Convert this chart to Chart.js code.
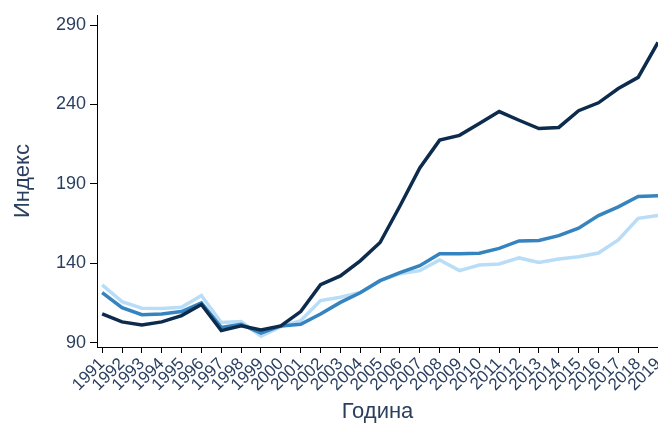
<!DOCTYPE html>
<html>
<head>
<meta charset="utf-8">
<script src="https://cdn.jsdelivr.net/npm/chart.js@4.4.1/dist/chart.umd.min.js"></script>
<style>
  html, body { margin: 0; padding: 0; background: #fff; }
  #wrap { width: 658px; height: 425px; }
</style>
</head>
<body>
<div id="wrap"><canvas id="chart"></canvas></div>
<script>
// години
const years = [1991, 1992, 1993, 1994, 1995, 1996, 1997, 1998, 1999, 2000,
  2001, 2002, 2003, 2004, 2005, 2006, 2007, 2008, 2009, 2010,
  2011, 2012, 2013, 2014, 2015, 2016, 2017, 2018, 2019];

// индекс по серии (отчитано од графиконот)
const seriesDark = [108, 103, 101, 103, 107, 114, 97.5, 100.5, 98, 100.5,
  109.5, 126.5, 132, 141.5, 153, 176, 200, 217.5, 220.5, 228,
  235.5, 230, 224.8, 225.5, 236, 241, 250, 257, 279];
const seriesMid = [121.5, 112, 107.5, 108, 109.5, 115, 99.5, 101.5, 96, 100.5,
  101.5, 108, 115.3, 121.4, 129, 134, 138.4, 146, 146, 146.3,
  149.3, 154, 154.3, 157.3, 162, 170, 175.5, 182, 182.5];
const seriesLight = [126.3, 115.8, 111.6, 111.4, 112.2, 119.6, 102.6, 103.2, 94, 100,
  103.8, 116.4, 118.5, 121.6, 129, 133.4, 135.3, 142, 135.3, 138.8,
  139.5, 143.3, 140.5, 142.6, 144, 146.4, 154.6, 168.2, 170];

const yTicks = [90, 140, 190, 240, 290];

const textColor = "#2a3f5f";
const toPoints = (vals) => vals.map((v, i) => ({ x: years[i], y: v }));

new Chart(document.getElementById("chart"), {
  type: "line",
  data: {
    datasets: [
      { label: "Серија 1", data: toPoints(seriesDark), borderColor: "#0c2b4d", borderWidth: 3.5 },
      { label: "Серија 2", data: toPoints(seriesMid), borderColor: "#3584bf", borderWidth: 3.5 },
      { label: "Серија 3", data: toPoints(seriesLight), borderColor: "#b9ddf7", borderWidth: 3.5 },
    ],
  },
  options: {
    responsive: true,
    maintainAspectRatio: false,
    animation: false,
    elements: { point: { radius: 0 }, line: { tension: 0 } },
    layout: { padding: { top: 15, right: 0, left: 0, bottom: 0 } },
    plugins: { legend: { display: false }, tooltip: { enabled: false } },
    scales: {
      x: {
        type: "linear",
        min: 1990.74,
        max: 2019,
        afterBuildTicks: (s) => { s.ticks = years.map((y) => ({ value: y })); },
        afterFit: (s) => { s.height = 78; s.paddingLeft = 0; s.paddingRight = 0; },
        grid: { drawOnChartArea: false, drawTicks: true, tickLength: 6, color: "#000" },
        border: { display: true, color: "#000", width: 1 },
        ticks: {
          color: textColor,
          font: { family: "Liberation Sans, Arial", size: 17 },
          minRotation: 45,
          maxRotation: 45,
          autoSkip: false,
          padding: 1,
          callback: (v) => String(v),
        },
        title: {
          display: true,
          text: "Година",
          color: textColor,
          font: { family: "Liberation Sans, Arial", size: 22 },
          padding: { top: 0, bottom: 0 },
        },
      },
      y: {
        min: 87.2,
        max: 296.3,
        afterBuildTicks: (s) => { s.ticks = yTicks.map((v) => ({ value: v })); },
        afterFit: (s) => { s.width = 97; s.paddingTop = 0; s.paddingBottom = 0; },
        grid: { drawOnChartArea: false, drawTicks: true, tickLength: 7, color: "#000" },
        border: { display: true, color: "#000", width: 1 },
        ticks: {
          color: textColor,
          font: { family: "Liberation Sans, Arial", size: 18 },
          padding: 4,
        },
        title: {
          display: true,
          text: "Индекс",
          color: textColor,
          font: { family: "Liberation Sans, Arial", size: 22 },
          padding: { top: 10, bottom: 0 },
        },
      },
    },
  },
});
</script>
</body>
</html>
